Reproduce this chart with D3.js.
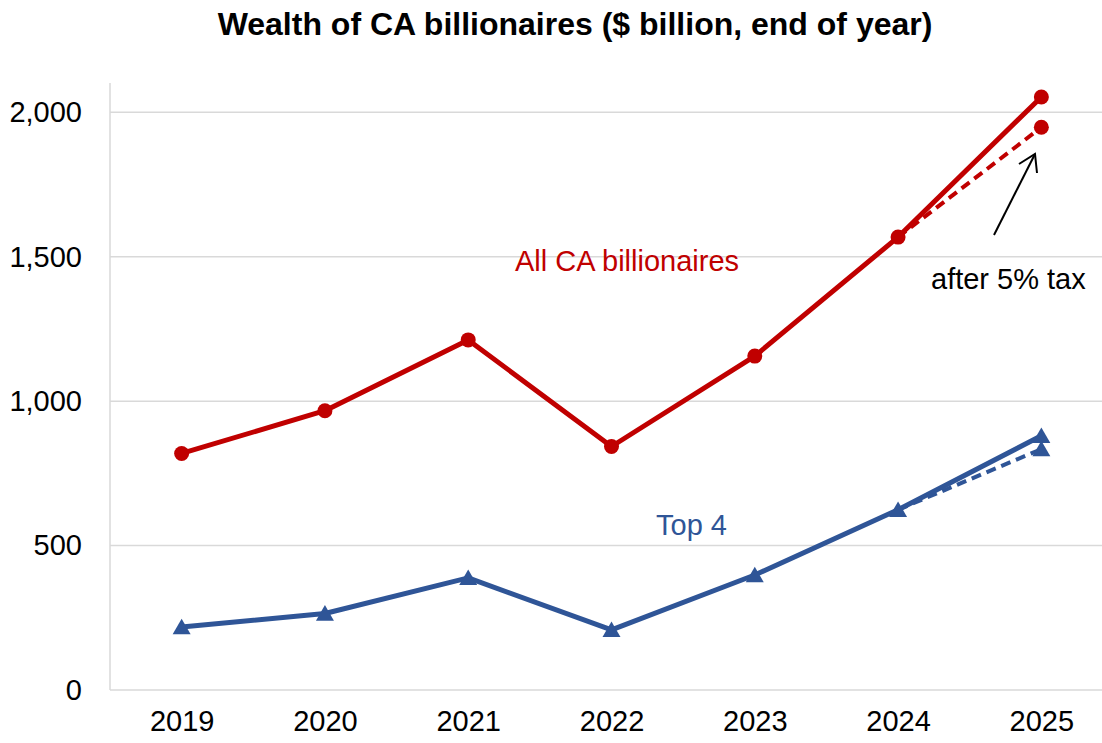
<!DOCTYPE html>
<html>
<head>
<meta charset="utf-8">
<script src="https://cdn.jsdelivr.net/npm/d3@7"></script>
<style>
  html, body { margin: 0; padding: 0; background: #fff; }
  svg { display: block; font-family: "Liberation Sans", Arial, sans-serif; }
</style>
</head>
<body>
<svg id="chart" width="1102" height="743"></svg>
<script>
// Years on the horizontal axis
const years = ["2019", "2020", "2021", "2022", "2023", "2024", "2025"];
// Wealth of all California billionaires, $ billion at end of year
const allBillionaires = [819, 967, 1212, 843, 1156, 1568, 2053];
// Wealth of the four richest, $ billion at end of year
const top4 = [218, 265, 388, 208, 398, 624, 880];
// 2025 wealth after a one-time 5% tax (dashed segment from 2024)
const allAfterTax = [["2024", 1568], ["2025", 1948]];
const top4AfterTax = [["2024", 624], ["2025", 834]];
// Value-axis ticks
const yTicks = [0, 500, 1000, 1500, 2000];

const RED = "#C00000";
const BLUE = "#2F5597";
const GRID = "#D9D9D9";

const svg = d3.select("#chart");

const x = d3.scalePoint().domain(years).range([110, 1113]).padding(0.5);
const y = d3.scaleLinear().domain([0, 2000]).range([690, 112.3]);

// Title
svg.append("text")
  .attr("x", 575).attr("y", 35)
  .attr("text-anchor", "middle")
  .attr("font-size", 32).attr("font-weight", "bold")
  .attr("fill", "#000")
  .text("Wealth of CA billionaires ($ billion, end of year)");

// Horizontal gridlines
svg.append("g").selectAll("line")
  .data(yTicks.filter(d => d > 0))
  .join("line")
  .attr("x1", 110).attr("x2", 1102)
  .attr("y1", d => y(d)).attr("y2", d => y(d))
  .attr("stroke", GRID).attr("stroke-width", 1.5);

// Value axis labels
const yAxis = d3.axisLeft(y).tickValues(yTicks).tickSize(0).tickPadding(28)
  .tickFormat(d3.format(","));
const gy = svg.append("g").attr("transform", "translate(110,0)").call(yAxis);
gy.select(".domain").remove();
gy.selectAll("text")
  .attr("font-size", 29).attr("fill", "#000")
  .attr("font-family", "'Liberation Sans', Arial, sans-serif");

// Axis lines
svg.append("line")
  .attr("x1", 110).attr("x2", 110).attr("y1", 83).attr("y2", 690)
  .attr("stroke", GRID).attr("stroke-width", 1.5);
svg.append("line")
  .attr("x1", 110).attr("x2", 1102).attr("y1", 690).attr("y2", 690)
  .attr("stroke", GRID).attr("stroke-width", 1.5);

// Category axis labels
const xAxis = d3.axisBottom(x).tickSize(0).tickPadding(20);
const gx = svg.append("g").attr("transform", "translate(0,690)").call(xAxis);
gx.select(".domain").remove();
gx.selectAll("text")
  .attr("font-size", 29).attr("fill", "#000")
  .attr("font-family", "'Liberation Sans', Arial, sans-serif");

const line = d3.line().x(d => x(d[0])).y(d => y(d[1]));

// Dashed after-tax segments (drawn beneath the solid lines)
svg.append("path")
  .datum(allAfterTax)
  .attr("d", line)
  .attr("fill", "none").attr("stroke", RED)
  .attr("stroke-width", 4).attr("stroke-dasharray", "10,6");
svg.append("path")
  .datum(top4AfterTax)
  .attr("d", line)
  .attr("fill", "none").attr("stroke", BLUE)
  .attr("stroke-width", 4).attr("stroke-dasharray", "10,6");

// Solid series lines
const allPts = years.map((yr, i) => [yr, allBillionaires[i]]);
const topPts = years.map((yr, i) => [yr, top4[i]]);

svg.append("path")
  .datum(allPts)
  .attr("d", line)
  .attr("fill", "none").attr("stroke", RED)
  .attr("stroke-width", 5).attr("stroke-linejoin", "round");
svg.append("path")
  .datum(topPts)
  .attr("d", line)
  .attr("fill", "none").attr("stroke", BLUE)
  .attr("stroke-width", 5).attr("stroke-linejoin", "round");

// Circle markers for all billionaires
svg.append("g").selectAll("circle")
  .data(allPts.concat([allAfterTax[1]]))
  .join("circle")
  .attr("cx", d => x(d[0])).attr("cy", d => y(d[1]))
  .attr("r", 7.5).attr("fill", RED);

// Triangle markers for the top 4
const tri = d3.symbol().type(d3.symbolTriangle).size(140);
svg.append("g").selectAll("path")
  .data(topPts.concat([top4AfterTax[1]]))
  .join("path")
  .attr("d", tri)
  .attr("transform", d => `translate(${x(d[0])},${y(d[1]) + 2})`)
  .attr("fill", BLUE);

// Series labels
svg.append("text")
  .attr("x", 515).attr("y", 271)
  .attr("font-size", 29).attr("fill", RED)
  .text("All CA billionaires");
svg.append("text")
  .attr("x", 656).attr("y", 535)
  .attr("font-size", 29).attr("fill", BLUE)
  .text("Top 4");

// Tax annotation with an open arrow pointing at the after-tax point
svg.append("text")
  .attr("x", 931).attr("y", 289)
  .attr("font-size", 29).attr("fill", "#000")
  .text("after 5% tax");

const tail = [994, 235], head = [1035, 154];
svg.append("line")
  .attr("x1", tail[0]).attr("y1", tail[1])
  .attr("x2", head[0]).attr("y2", head[1])
  .attr("stroke", "#000").attr("stroke-width", 2);
svg.append("path")
  .attr("d", `M1019,164 L${head[0]},${head[1]} L1037,173`)
  .attr("fill", "none").attr("stroke", "#000").attr("stroke-width", 2);
</script>
</body>
</html>
